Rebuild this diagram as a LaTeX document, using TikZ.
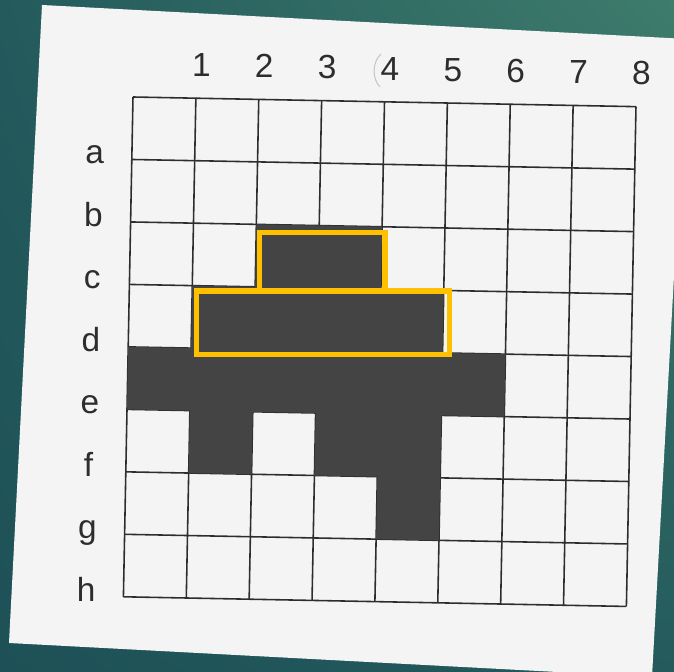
\documentclass[tikz,border=0pt]{standalone}
\usepackage{fontspec}
\setmainfont{Liberation Sans}
\usetikzlibrary{positioning}
\usetikzlibrary{shadings}
\definecolor{tealdark}{RGB}{29,81,87}
\definecolor{tealmid}{RGB}{36,90,92}
\definecolor{teallight}{RGB}{62,124,108}
\definecolor{paper}{RGB}{244,244,244}
\definecolor{ink}{RGB}{45,45,45}
\definecolor{cellfill}{RGB}{68,68,68}
\definecolor{mgold}{RGB}{255,192,0}
\tikzset{
    gridline/.style={ink, line width=0.9pt},
    darkcell/.style={fill=cellfill},
    goldbox/.style={mgold, line width=2.9pt},
    lbl/.style={text=ink, inner sep=0pt, font=\fontsize{19}{19}\selectfont},
}

\begin{document}
\begin{tikzpicture}[x=0.02cm, y=-0.02cm]
    \useasboundingbox (0,0) rectangle (674,672);
    \clip (0,0) rectangle (674,672);
    \shade[upper left=tealmid, upper right=teallight, lower left=tealdark, lower right=tealmid]
        (0,0) rectangle (674,672);
    \fill[paper] (42,5) -- (687,39) -- (652,677) -- (9,643) -- cycle;
    \begin{scope}[shift={(133,97)}, rotate=-1.1, x=1.258cm, y=-1.25cm]
        \foreach \i in {0,...,8} {
            \draw[gridline] (\i,0) -- (\i,8);
            \draw[gridline] (0,\i) -- (8,\i);
        }
        \fill[darkcell]
            \foreach \c/\r in {3/3,4/3, 2/4,3/4,4/4,5/4, 1/5,2/5,3/5,4/5,5/5,6/5, 2/6,4/6,5/6, 5/7}
                {(\c-1,\r-1) rectangle (\c,\r)};
        \foreach \n [count=\i] in {1,...,8}
            \node[lbl, anchor=base] (col\n) at (\i+0.08,-0.35) {\n};
        \foreach \l [count=\j] in {a,...,h}
            \node[lbl, anchor=base] (row\l) at (-0.59,\j+0.08) {\l};
    \end{scope}
    \draw[gray!45, line width=0.6pt] (381,54) .. controls (372,62) and (372,79) .. (380,87);
    \draw[goldbox] (259.5,232.5) rectangle (385,291);
    \draw[goldbox] (196.5,291) rectangle (449.5,354.5);
\end{tikzpicture}
\end{document}
